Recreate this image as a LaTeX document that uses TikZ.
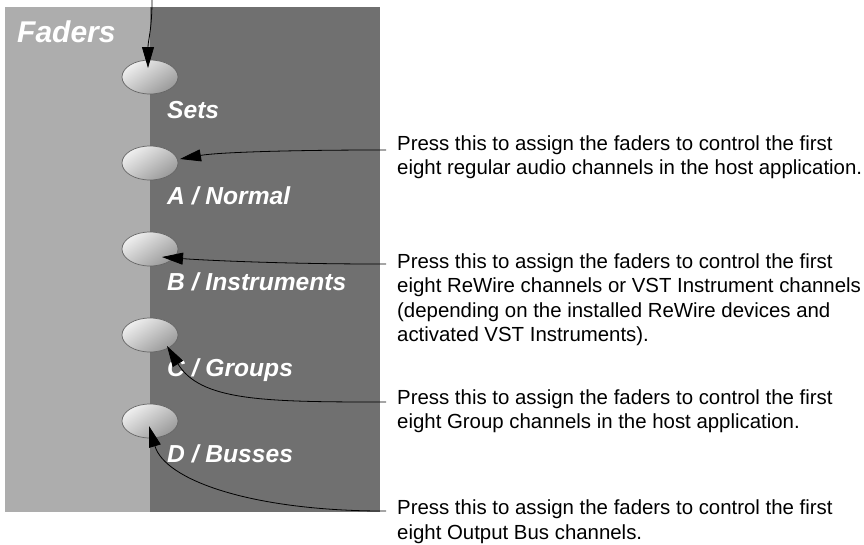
\documentclass[tikz,border=0pt]{standalone}
\usepackage{fontspec}
\setmainfont{Liberation Sans}
\usetikzlibrary{arrows.meta,shapes.geometric,calc}
\definecolor{panellight}{HTML}{ADADAD}
\definecolor{paneldark}{HTML}{707070}
\begin{document}
\begin{tikzpicture}[x=1pt,y=1pt,
  btn/.style={ellipse, minimum width=56pt, minimum height=34pt, inner sep=0pt,
    draw=black!60, line width=0.7pt, top color=white!94!black, bottom color=black!40,
    shading angle=35},
  lbl/.style={anchor=base west, inner sep=0pt, text=white,
    font=\fontsize{24.6}{28}\selectfont\bfseries\itshape},
  desc/.style={anchor=base west, inner sep=0pt, align=left,
    font=\fontsize{20.4}{24.5}\selectfont},
  conn/.style={draw=black, line width=0.8pt, -{Triangle[length=21pt,width=12pt]}},
]
\useasboundingbox (0,-544) rectangle (864,0);
% panel
\fill[panellight] (5,-7) rectangle (150,-512);
\fill[paneldark] (150,-7) rectangle (380,-512);
\node[lbl, font=\fontsize{30}{34}\selectfont\bfseries\itshape] (faders) at (17,-42) {Faders};
% buttons
\node[btn] (sets) at (150,-77) {};
\node[btn] (bA) at (150,-163) {};
\node[btn] (bB) at (150,-249) {};
\node[btn] (bC) at (150,-335) {};
\node[btn] (bD) at (150,-421) {};
% labels
\node[lbl] (lS) at (167,-118) {Sets};
\node[lbl] (lA) at (167,-204) {A / Normal};
\node[lbl] (lB) at (167,-290) {B / Instruments};
\node[lbl] (lC) at (167,-376) {C / Groups};
\node[lbl] (lD) at (167,-462) {D / Busses};
% descriptions (anchored at the baseline of the last line)
\node[desc] (t1) at (397,-174.5) {Press this to assign the faders to control the first\\eight regular audio channels in the host application.};
\node[desc] (t2) at (397,-341.5) {Press this to assign the faders to control the first\\eight ReWire channels or VST Instrument channels\\(depending on the installed ReWire devices and\\activated VST Instruments).};
\node[desc] (t3) at (397,-428.5) {Press this to assign the faders to control the first\\eight Group channels in the host application.};
\node[desc] (t4) at (397,-539) {Press this to assign the faders to control the first\\eight Output Bus channels.};
% connectors
\coordinate (topS) at (152,0);
\coordinate (tipS) at ($(sets)+(-2,9)$);
\draw[conn] (topS) .. controls (152,-30) and (148,-40) .. (tipS);
\coordinate (cA) at (386,-150);
\coordinate (tipA) at ($(bA)+(30,4)$);
\draw[conn] (cA) -- ++(-8,0) .. controls (300,-150) and (220,-152) .. (tipA);
\coordinate (cB) at (386,-264);
\coordinate (tipB) at ($(bB)+(12,-8)$);
\draw[conn] (cB) -- ++(-8,0) .. controls (280,-264) and (200,-260) .. (tipB);
\coordinate (cC) at (386,-402);
\coordinate (tipC) at ($(bC)+(17,-11)$);
\draw[conn] (cC) -- ++(-8,0) .. controls (260,-402) and (200,-400) .. (tipC);
\coordinate (cD) at (386,-511);
\coordinate (tipD) at ($(bD)+(-1,-5)$);
\draw[conn] (cD) -- ++(-8,0) .. controls (250,-510) and (165,-480) .. (tipD);
\end{tikzpicture}
\end{document}
